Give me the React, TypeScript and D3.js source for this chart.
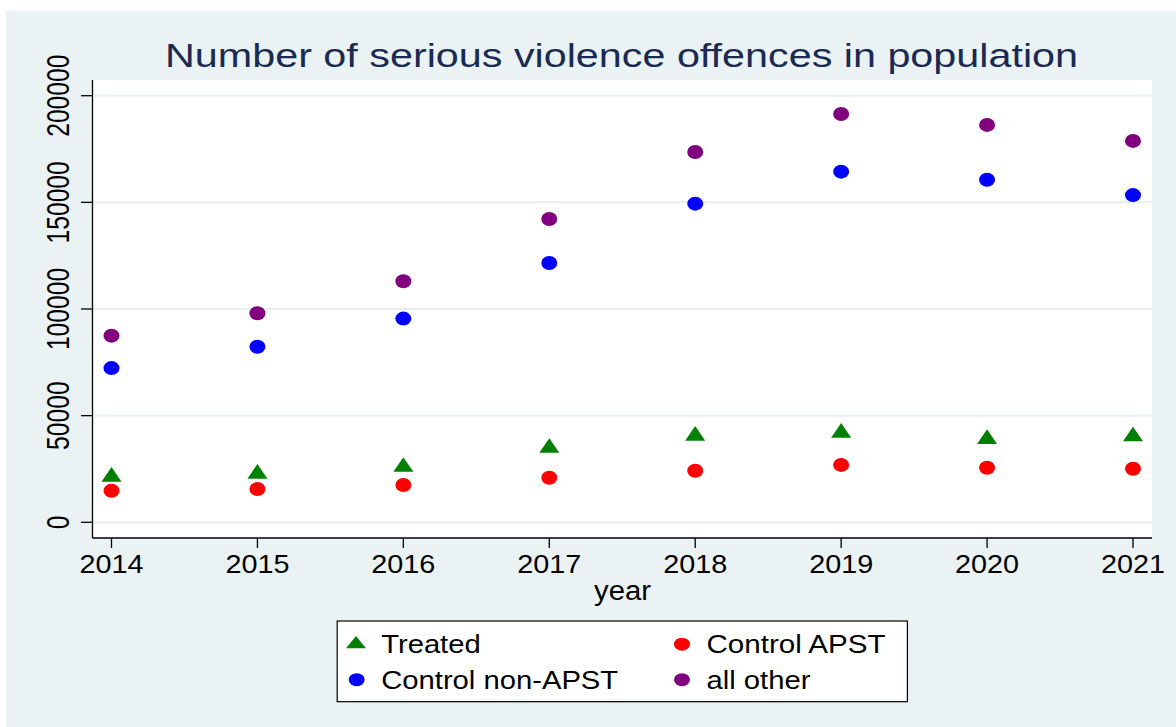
import React from "react";
import * as d3 from "d3";

const years = [2014, 2015, 2016, 2017, 2018, 2019, 2020, 2021];
const treated = [22500, 23900, 27100, 36000, 41700, 43100, 40200, 41400];
const controlAPST = [14800, 15600, 17500, 20900, 24200, 26900, 25600, 25100];
const controlNonAPST = [72300, 82300, 95500, 121600, 149400, 164400, 160600, 153400];
const allOther = [87500, 98000, 113000, 142200, 173600, 191400, 186300, 178800];
const yTicks = [0, 50000, 100000, 150000, 200000];
const title = "Number of serious violence offences in population";
const xTitle = "year";

const W = 1176;
const H = 727;
const plot = { left: 92.5, right: 1152, top: 80, bottom: 538 };
const FONT = "'Liberation Sans', Arial, Helvetica, sans-serif";

const x = d3.scaleLinear().domain([2014, 2021]).range([111.5, 1133]);
const y = d3.scaleLinear().domain([0, 200000]).range([522.3, 95.7]);

const trianglePath = (cx: number, cy: number, w: number, h: number) =>
  `M${cx - w / 2},${cy + h / 2}L${cx + w / 2},${cy + h / 2}L${cx},${cy - h / 2}Z`;

const circleSeries = [
  { name: "Control APST", values: controlAPST, color: "#ff0000" },
  { name: "Control non-APST", values: controlNonAPST, color: "#0000ff" },
  { name: "all other", values: allOther, color: "#800080" },
];

export default function App() {
  return (
    <svg width={W} height={H} style={{ display: "block", position: "absolute", left: 0, top: 0 }}>
      <rect x={0} y={0} width={W} height={H} fill="#ffffff" />
      <rect x={6} y={11} width={W - 6} height={H - 11} fill="#eaf2f3" />
      <rect x={plot.left} y={plot.top} width={plot.right - plot.left} height={plot.bottom - plot.top} fill="#ffffff" />

      {/* gridlines */}
      {yTicks.map((t) => (
        <line key={"g" + t} x1={plot.left} x2={plot.right} y1={y(t)} y2={y(t)} stroke="#e6eef1" strokeWidth={2} />
      ))}

      {/* title */}
      <text x={165} y={66.7} fontFamily={FONT} fontSize={34} fill="#1a2a52" textLength={913} lengthAdjust="spacingAndGlyphs">
        {title}
      </text>

      {/* axes */}
      <line x1={plot.left} x2={plot.left} y1={plot.top} y2={plot.bottom} stroke="#000" strokeWidth={1.3} />
      <line x1={plot.left} x2={plot.right} y1={plot.bottom} y2={plot.bottom} stroke="#000" strokeWidth={1.3} />

      {yTicks.map((t) => (
        <g key={"yt" + t}>
          <line x1={81} x2={plot.left} y1={y(t)} y2={y(t)} stroke="#000" strokeWidth={1.3} />
          <text
            transform={`translate(69,${y(t)}) rotate(-90)`}
            textAnchor="middle"
            fontFamily={FONT}
            fontSize={31}
            fill="#000"
            textLength={String(t).length * 13.7}
            lengthAdjust="spacingAndGlyphs"
          >
            {String(t)}
          </text>
        </g>
      ))}

      {years.map((yr) => (
        <g key={"xt" + yr}>
          <line x1={x(yr)} x2={x(yr)} y1={plot.bottom} y2={548} stroke="#000" strokeWidth={1.3} />
          <text
            x={x(yr)}
            y={573.3}
            textAnchor="middle"
            fontFamily={FONT}
            fontSize={25.6}
            fill="#000"
            textLength={64}
            lengthAdjust="spacingAndGlyphs"
          >
            {String(yr)}
          </text>
        </g>
      ))}

      <text x={622.5} y={600} textAnchor="middle" fontFamily={FONT} fontSize={27} fill="#000" textLength={57} lengthAdjust="spacingAndGlyphs">
        {xTitle}
      </text>

      {/* markers */}
      {circleSeries.map((s) =>
        s.values.map((v, i) => (
          <ellipse key={s.name + i} cx={x(years[i])} cy={y(v)} rx={8} ry={7} fill={s.color} />
        ))
      )}
      {treated.map((v, i) => (
        <path key={"tr" + i} d={trianglePath(x(years[i]), y(v), 20, 14.7)} fill="#008000" />
      ))}

      {/* legend */}
      <rect x={337.2} y={621} width={570.2} height={80.7} fill="#ffffff" stroke="#000" strokeWidth={1.2} />
      <path d={trianglePath(356, 642.2, 20, 12.3)} fill="#008000" />
      <text x={381.2} y={653.3} fontFamily={FONT} fontSize={25.6} fill="#000" textLength={99.5} lengthAdjust="spacingAndGlyphs">Treated</text>
      <ellipse cx={682} cy={644.2} rx={8} ry={6.5} fill="#ff0000" />
      <text x={706.5} y={653.3} fontFamily={FONT} fontSize={25.6} fill="#000" textLength={179} lengthAdjust="spacingAndGlyphs">Control APST</text>
      <ellipse cx={356.7} cy={679.7} rx={8} ry={6.5} fill="#0000ff" />
      <text x={381.2} y={689.3} fontFamily={FONT} fontSize={25.6} fill="#000" textLength={237} lengthAdjust="spacingAndGlyphs">Control non-APST</text>
      <ellipse cx={682} cy={679.7} rx={8} ry={6.5} fill="#800080" />
      <text x={706.5} y={689.3} fontFamily={FONT} fontSize={25.6} fill="#000" textLength={104} lengthAdjust="spacingAndGlyphs">all other</text>
    </svg>
  );
}
